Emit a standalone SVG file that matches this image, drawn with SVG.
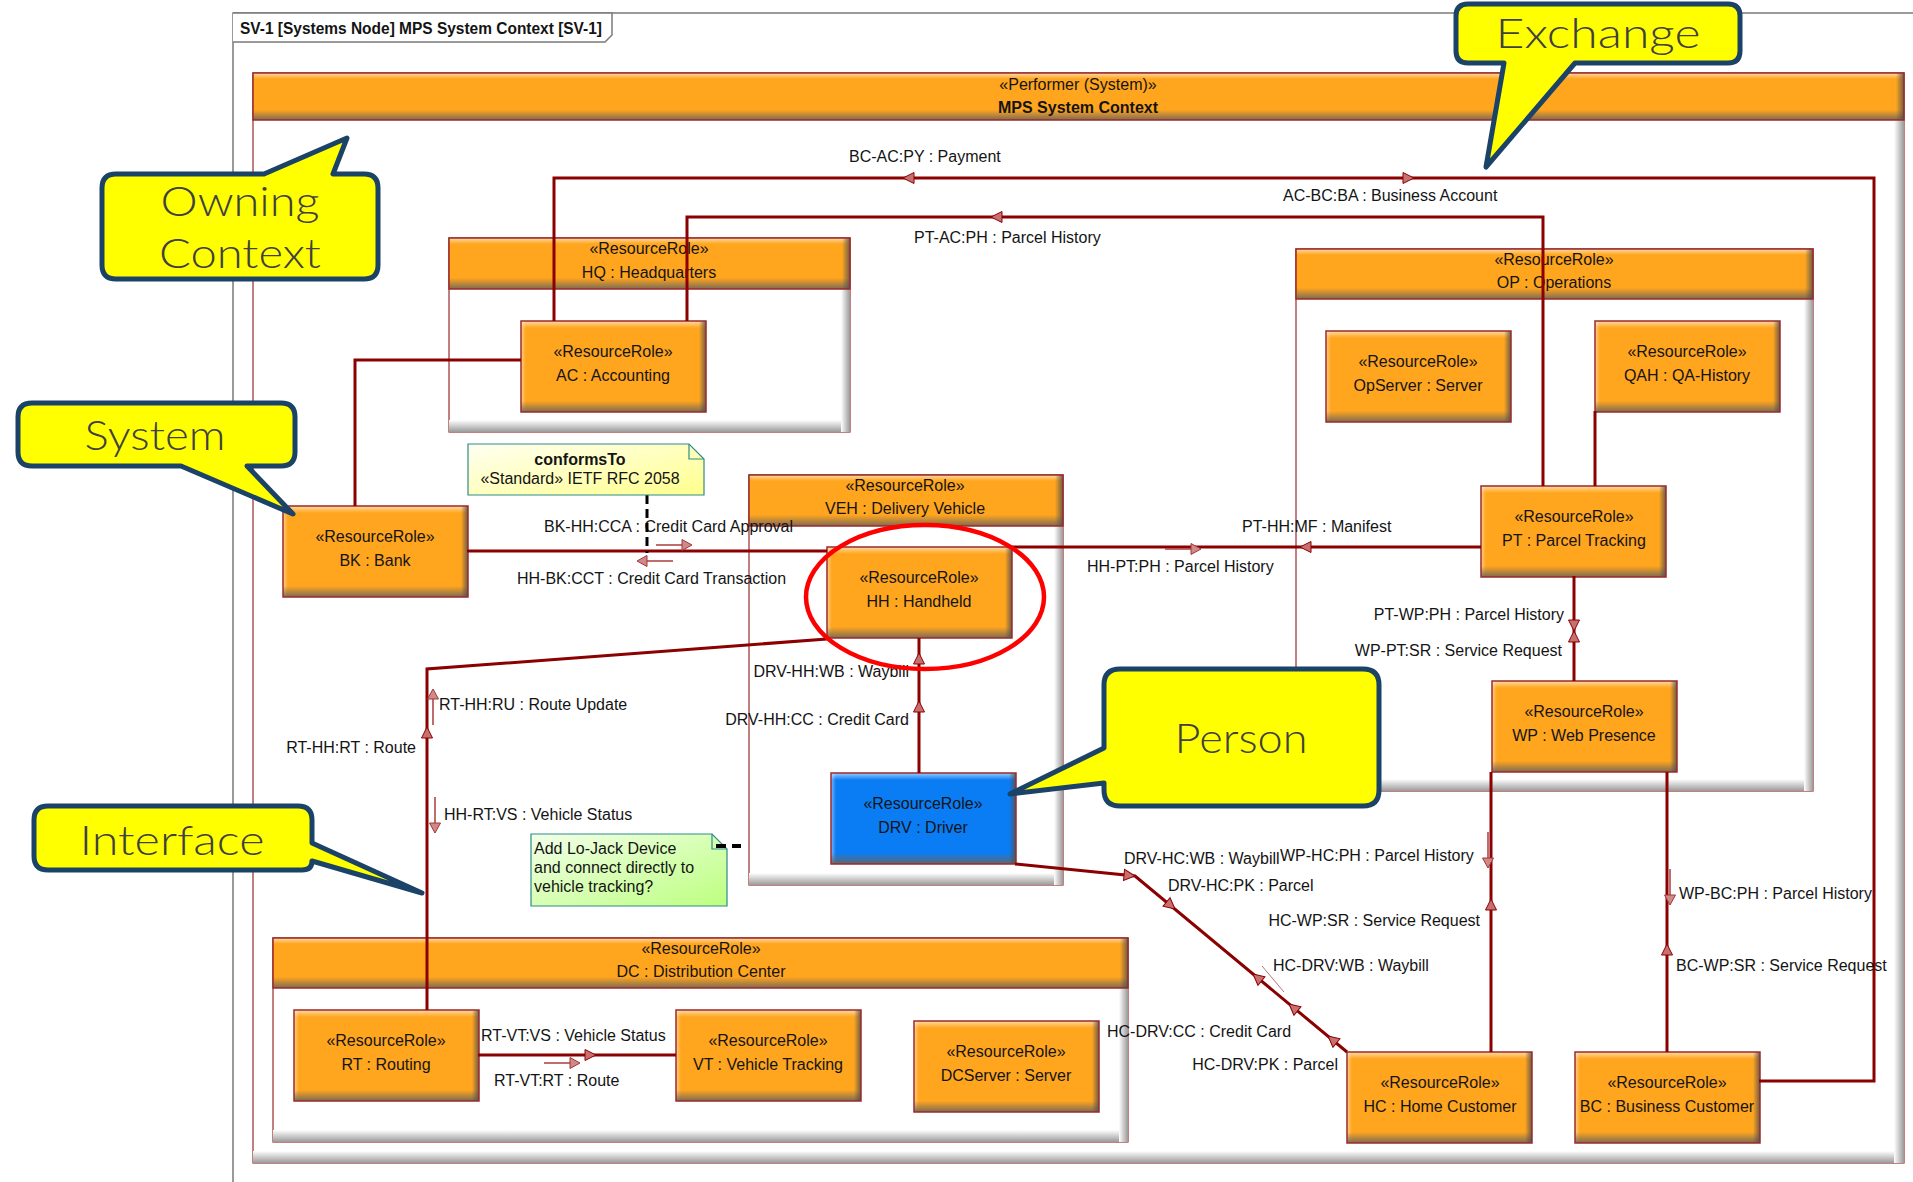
<svg xmlns="http://www.w3.org/2000/svg" xmlns:xlink="http://www.w3.org/1999/xlink" width="1913" height="1182" viewBox="0 0 1913 1182">
  <style>
    .t { font-family: "Liberation Sans", Arial, sans-serif; font-size: 16px; fill: #141414; }
    .c { text-anchor: middle; }
    .r { text-anchor: end; }
    .b { font-weight: bold; }
    .or { fill: #FFA51E; }
    .bl { fill: #0A7DF5; }
    .edge { fill: none; stroke: #9B2B2B; stroke-width: 1.5; }
    .body { fill: #FFFFFF; stroke: #9B2B2B; stroke-width: 1.2; }
    .link { fill: none; stroke: #8B0000; stroke-width: 3; }
    .ah { fill: #C87070; stroke: #8B0000; stroke-width: 1; }
    .oa line { stroke: #B04848; stroke-width: 1.6; }
    .oa path { fill: #D08888; stroke: #A03838; stroke-width: 1; }
    .call { fill: #FFFF00; stroke: #1B4368; stroke-width: 5; stroke-linejoin: round; }
    .ct { font-family: Lato, "Open Sans", sans-serif; font-weight: 300; fill: #404040; text-anchor: middle; }
    .note { stroke: #2E8B8B; stroke-width: 1.2; }
  </style>
  <defs>
    <linearGradient id="gTop" x1="0" y1="0" x2="0" y2="1">
      <stop offset="0" stop-color="#FFFFFF" stop-opacity="0.6"/>
      <stop offset="1" stop-color="#FFFFFF" stop-opacity="0"/>
    </linearGradient>
    <linearGradient id="gBot" x1="0" y1="0" x2="0" y2="1">
      <stop offset="0" stop-color="#6E645A" stop-opacity="0"/>
      <stop offset="1" stop-color="#6E645A" stop-opacity="0.9"/>
    </linearGradient>
    <linearGradient id="gRgt" x1="0" y1="0" x2="1" y2="0">
      <stop offset="0" stop-color="#505050" stop-opacity="0"/>
      <stop offset="1" stop-color="#505050" stop-opacity="0.85"/>
    </linearGradient>
    <linearGradient id="gLft" x1="0" y1="0" x2="1" y2="0">
      <stop offset="0" stop-color="#FFFFFF" stop-opacity="0.45"/>
      <stop offset="1" stop-color="#FFFFFF" stop-opacity="0"/>
    </linearGradient>
    <linearGradient id="wBot" x1="0" y1="0" x2="0" y2="1">
      <stop offset="0" stop-color="#FFFFFF"/>
      <stop offset="1" stop-color="#9A9A9A"/>
    </linearGradient>
    <linearGradient id="wRgt" x1="0" y1="0" x2="1" y2="0">
      <stop offset="0" stop-color="#FFFFFF"/>
      <stop offset="1" stop-color="#9A9A9A"/>
    </linearGradient>
    <linearGradient id="gNoteY" x1="0" y1="0" x2="1" y2="1">
      <stop offset="0" stop-color="#FFFFF2"/>
      <stop offset="1" stop-color="#FFFF8C"/>
    </linearGradient>
    <linearGradient id="gNoteG" x1="0" y1="0" x2="1" y2="1">
      <stop offset="0" stop-color="#F2FFE8"/>
      <stop offset="1" stop-color="#BDFF80"/>
    </linearGradient>

    <!-- bevelled leaf box, 185 x 91 -->
    <g id="leafO">
      <rect class="or" x="0" y="0" width="185" height="91"/>
      <rect x="0" y="0" width="185" height="7" fill="url(#gTop)"/>
      <rect x="0" y="0" width="5" height="91" fill="url(#gLft)"/>
      <rect x="0" y="80" width="185" height="11" fill="url(#gBot)"/>
      <rect x="178" y="0" width="7" height="91" fill="url(#gRgt)"/>
      <rect class="edge" x="0" y="0" width="185" height="91"/>
    </g>
    <g id="leafB">
      <rect class="bl" x="0" y="0" width="185" height="91"/>
      <rect x="0" y="0" width="185" height="7" fill="url(#gTop)"/>
      <rect x="0" y="0" width="5" height="91" fill="url(#gLft)"/>
      <rect x="0" y="80" width="185" height="11" fill="url(#gBot)"/>
      <rect x="178" y="0" width="7" height="91" fill="url(#gRgt)"/>
      <rect class="edge" x="0" y="0" width="185" height="91"/>
    </g>

    <!-- arrowheads: tip at origin, pointing along +x -->
    <path id="tri" class="ah" d="M0,0 L-11,-5.5 L-11,5.5 Z"/>
    <g id="oarr" class="oa">
      <line x1="-36" y1="0" x2="-9" y2="0"/>
      <path d="M0,0 L-10,-5.5 L-10,5.5 Z"/>
    </g>
  </defs>

  <rect x="0" y="0" width="1913" height="1182" fill="#FFFFFF"/>

  <!-- diagram frame -->
  <g id="frame">
    <path d="M233,1182 V13 H1913" fill="none" stroke="#7A7A7A" stroke-width="1.5"/>
    <path d="M233,13 H612 V35 L605,42 H233" fill="#FFFFFF" stroke="#7A7A7A" stroke-width="1.5"/>
    <text class="t b" x="240" y="34" font-size="14" textLength="362" lengthAdjust="spacingAndGlyphs">SV-1 [Systems Node] MPS System Context [SV-1]</text>
  </g>

  <!-- owning context -->
  <g id="mps-system-context">
    <rect class="body" x="253" y="73" width="1651" height="1090"/>
    <rect x="253" y="1151" width="1651" height="12" fill="url(#wBot)"/>
    <rect x="1894" y="120" width="10" height="1043" fill="url(#wRgt)"/>
    <rect class="or" x="253" y="73" width="1651" height="47"/>
    <rect x="253" y="73" width="1651" height="6" fill="url(#gTop)"/>
    <rect x="253" y="110" width="1651" height="10" fill="url(#gBot)"/>
    <rect x="1896" y="73" width="8" height="47" fill="url(#gRgt)"/>
    <rect class="edge" x="253" y="73" width="1651" height="47"/>
    <text class="t c" x="1078" y="90">«Performer (System)»</text>
    <text class="t c b" x="1078" y="113">MPS System Context</text>
  </g>

  <!-- containers -->
  <g id="hq">
    <rect class="body" x="449" y="238" width="401" height="194"/>
    <rect x="449" y="420" width="401" height="12" fill="url(#wBot)"/>
    <rect x="841" y="289" width="9" height="143" fill="url(#wRgt)"/>
    <rect class="or" x="449" y="238" width="401" height="51"/>
    <rect x="449" y="238" width="401" height="6" fill="url(#gTop)"/>
    <rect x="449" y="278" width="401" height="11" fill="url(#gBot)"/>
    <rect x="842" y="238" width="8" height="51" fill="url(#gRgt)"/>
    <rect class="edge" x="449" y="238" width="401" height="51"/>
    <text class="t c" x="649" y="254">«ResourceRole»</text>
    <text class="t c" x="649" y="278">HQ : Headquarters</text>
  </g>

  <g id="veh">
    <rect class="body" x="749" y="475" width="314" height="410"/>
    <rect x="749" y="873" width="314" height="12" fill="url(#wBot)"/>
    <rect x="1054" y="526" width="9" height="359" fill="url(#wRgt)"/>
    <rect class="or" x="749" y="475" width="314" height="51"/>
    <rect x="749" y="475" width="314" height="6" fill="url(#gTop)"/>
    <rect x="749" y="515" width="314" height="11" fill="url(#gBot)"/>
    <rect x="1055" y="475" width="8" height="51" fill="url(#gRgt)"/>
    <rect class="edge" x="749" y="475" width="314" height="51"/>
    <text class="t c" x="905" y="491">«ResourceRole»</text>
    <text class="t c" x="905" y="514">VEH : Delivery Vehicle</text>
  </g>

  <g id="op">
    <rect class="body" x="1296" y="249" width="517" height="542"/>
    <rect x="1296" y="779" width="517" height="12" fill="url(#wBot)"/>
    <rect x="1804" y="299" width="9" height="492" fill="url(#wRgt)"/>
    <rect class="or" x="1296" y="249" width="517" height="50"/>
    <rect x="1296" y="249" width="517" height="6" fill="url(#gTop)"/>
    <rect x="1296" y="288" width="517" height="11" fill="url(#gBot)"/>
    <rect x="1805" y="249" width="8" height="50" fill="url(#gRgt)"/>
    <rect class="edge" x="1296" y="249" width="517" height="50"/>
    <text class="t c" x="1554" y="265">«ResourceRole»</text>
    <text class="t c" x="1554" y="288">OP : Operations</text>
  </g>

  <g id="dc">
    <rect class="body" x="273" y="938" width="855" height="204"/>
    <rect x="273" y="1130" width="855" height="12" fill="url(#wBot)"/>
    <rect x="1119" y="988" width="9" height="154" fill="url(#wRgt)"/>
    <rect class="or" x="273" y="938" width="855" height="50"/>
    <rect x="273" y="938" width="855" height="6" fill="url(#gTop)"/>
    <rect x="273" y="977" width="855" height="11" fill="url(#gBot)"/>
    <rect x="1120" y="938" width="8" height="50" fill="url(#gRgt)"/>
    <rect class="edge" x="273" y="938" width="855" height="50"/>
    <text class="t c" x="701" y="954">«ResourceRole»</text>
    <text class="t c" x="701" y="977">DC : Distribution Center</text>
  </g>

  <!-- resource roles -->
  <g id="ac"><use href="#leafO" x="521" y="321"/>
    <text class="t c" x="613" y="357">«ResourceRole»</text><text class="t c" x="613" y="381">AC : Accounting</text></g>
  <g id="bk"><use href="#leafO" x="283" y="506"/>
    <text class="t c" x="375" y="542">«ResourceRole»</text><text class="t c" x="375" y="566">BK : Bank</text></g>
  <g id="hh"><use href="#leafO" x="827" y="547"/>
    <text class="t c" x="919" y="583">«ResourceRole»</text><text class="t c" x="919" y="607">HH : Handheld</text></g>
  <g id="drv"><use href="#leafB" x="831" y="773"/>
    <text class="t c" x="923" y="809">«ResourceRole»</text><text class="t c" x="923" y="833">DRV : Driver</text></g>
  <g id="opserver"><use href="#leafO" x="1326" y="331"/>
    <text class="t c" x="1418" y="367">«ResourceRole»</text><text class="t c" x="1418" y="391">OpServer : Server</text></g>
  <g id="qah"><use href="#leafO" x="1595" y="321"/>
    <text class="t c" x="1687" y="357">«ResourceRole»</text><text class="t c" x="1687" y="381">QAH : QA-History</text></g>
  <g id="pt"><use href="#leafO" x="1481" y="486"/>
    <text class="t c" x="1574" y="522">«ResourceRole»</text><text class="t c" x="1574" y="546">PT : Parcel Tracking</text></g>
  <g id="wp"><use href="#leafO" x="1492" y="681"/>
    <text class="t c" x="1584" y="717">«ResourceRole»</text><text class="t c" x="1584" y="741">WP : Web Presence</text></g>
  <g id="rt"><use href="#leafO" x="294" y="1010"/>
    <text class="t c" x="386" y="1046">«ResourceRole»</text><text class="t c" x="386" y="1070">RT : Routing</text></g>
  <g id="vt"><use href="#leafO" x="676" y="1010"/>
    <text class="t c" x="768" y="1046">«ResourceRole»</text><text class="t c" x="768" y="1070">VT : Vehicle Tracking</text></g>
  <g id="dcserver"><use href="#leafO" x="914" y="1021"/>
    <text class="t c" x="1006" y="1057">«ResourceRole»</text><text class="t c" x="1006" y="1081">DCServer : Server</text></g>
  <g id="hc"><use href="#leafO" x="1347" y="1052"/>
    <text class="t c" x="1440" y="1088">«ResourceRole»</text><text class="t c" x="1440" y="1112">HC : Home Customer</text></g>
  <g id="bc"><use href="#leafO" x="1575" y="1052"/>
    <text class="t c" x="1667" y="1088">«ResourceRole»</text><text class="t c" x="1667" y="1112">BC : Business Customer</text></g>

  <!-- connectors -->
  <g id="connectors">
    <path class="link" d="M554,321 V178 H1874 V1081 H1759"/>
    <path class="link" d="M687,321 V217 H1543 V486"/>
    <path class="link" d="M521,360 H355 V506"/>
    <path class="link" d="M467,551 H827"/>
    <path class="link" d="M1011,547 H1481"/>
    <path class="link" d="M1595,411 V486"/>
    <path class="link" d="M1574,576 V681"/>
    <path class="link" d="M827,639 L427,669 V1010"/>
    <path class="link" d="M919,773 V638"/>
    <path class="link" d="M478,1055 H676"/>
    <path class="link" d="M1015,864 L1135,876 L1347,1052"/>
    <path class="link" d="M1491,772 V1052"/>
    <path class="link" d="M1667,772 V1052"/>

    <!-- arrowheads on the lines -->
    <use href="#tri" transform="translate(903,178) rotate(180)"/>
    <use href="#tri" transform="translate(1414,178)"/>
    <use href="#tri" transform="translate(991,217) rotate(180)"/>
    <use href="#tri" transform="translate(1300,547) rotate(180)"/>
    <use href="#tri" transform="translate(1574,631) rotate(90)"/>
    <use href="#tri" transform="translate(1574,631) rotate(-90)"/>
    <use href="#tri" transform="translate(919,653) rotate(-90)"/>
    <use href="#tri" transform="translate(919,701) rotate(-90)"/>
    <use href="#tri" transform="translate(427,727) rotate(-90)"/>
    <use href="#tri" transform="translate(596,1055)"/>
    <use href="#tri" transform="translate(1135,876) rotate(5.7)"/>
    <use href="#tri" transform="translate(1175,909) rotate(39.7)"/>
    <use href="#tri" transform="translate(1253,974) rotate(219.7)"/>
    <use href="#tri" transform="translate(1289,1004) rotate(219.7)"/>
    <use href="#tri" transform="translate(1328,1036) rotate(219.7)"/>
    <use href="#tri" transform="translate(1491,899) rotate(-90)"/>
    <use href="#tri" transform="translate(1667,944) rotate(-90)"/>

    <!-- flow arrows beside the lines -->
    <use href="#oarr" transform="translate(692,545)"/>
    <use href="#oarr" transform="translate(637,561) rotate(180)"/>
    <use href="#oarr" transform="translate(1201,549)"/>
    <use href="#oarr" transform="translate(433,689) rotate(-90)"/>
    <use href="#oarr" transform="translate(435,833) rotate(90)"/>
    <use href="#oarr" transform="translate(580,1063)"/>
    <use href="#oarr" transform="translate(1488,868) rotate(90)"/>
    <use href="#oarr" transform="translate(1670,905) rotate(90)"/>
    <line x1="1262" y1="966" x2="1284" y2="992" stroke="#C07070" stroke-width="1"/>

    <!-- connector labels -->
    <text class="t" x="849" y="162">BC-AC:PY : Payment</text>
    <text class="t" x="1283" y="201">AC-BC:BA : Business Account</text>
    <text class="t" x="914" y="243">PT-AC:PH : Parcel History</text>
    <text class="t" x="544" y="532">BK-HH:CCA : Credit Card Approval</text>
    <text class="t" x="517" y="584">HH-BK:CCT : Credit Card Transaction</text>
    <text class="t" x="1242" y="532">PT-HH:MF : Manifest</text>
    <text class="t" x="1087" y="572">HH-PT:PH : Parcel History</text>
    <text class="t r" x="1564" y="620">PT-WP:PH : Parcel History</text>
    <text class="t r" x="1562" y="656">WP-PT:SR : Service Request</text>
    <text class="t r" x="909" y="677">DRV-HH:WB : Waybill</text>
    <text class="t r" x="909" y="725">DRV-HH:CC : Credit Card</text>
    <text class="t" x="439" y="710">RT-HH:RU : Route Update</text>
    <text class="t r" x="416" y="753">RT-HH:RT : Route</text>
    <text class="t" x="444" y="820">HH-RT:VS : Vehicle Status</text>
    <text class="t" x="481" y="1041">RT-VT:VS : Vehicle Status</text>
    <text class="t" x="494" y="1086">RT-VT:RT : Route</text>
    <text class="t" x="1124" y="864">DRV-HC:WB : Waybill</text>
    <text class="t" x="1280" y="861">WP-HC:PH : Parcel History</text>
    <text class="t" x="1168" y="891">DRV-HC:PK : Parcel</text>
    <text class="t r" x="1480" y="926">HC-WP:SR : Service Request</text>
    <text class="t" x="1273" y="971">HC-DRV:WB : Waybill</text>
    <text class="t" x="1107" y="1037">HC-DRV:CC : Credit Card</text>
    <text class="t r" x="1338" y="1070">HC-DRV:PK : Parcel</text>
    <text class="t" x="1679" y="899">WP-BC:PH : Parcel History</text>
    <text class="t" x="1676" y="971">BC-WP:SR : Service Request</text>
  </g>

  <!-- notes -->
  <g id="note-conforms">
    <line x1="647" y1="495" x2="647" y2="553" stroke="#000" stroke-width="3" stroke-dasharray="9,5"/>
    <path class="note" d="M468,444 H689 L704,459 V495 H468 Z" fill="url(#gNoteY)"/>
    <path class="note" d="M689,444 V459 H704" fill="none"/>
    <text class="t c b" x="580" y="465">conformsTo</text>
    <text class="t c" x="580" y="484">«Standard» IETF RFC 2058</text>
  </g>
  <g id="note-lojack">
    <path class="note" d="M531,834 H712 L727,849 V906 H531 Z" fill="url(#gNoteG)"/>
    <path class="note" d="M712,834 V849 H727" fill="none"/>
    <line x1="716" y1="846" x2="741" y2="846" stroke="#000" stroke-width="4" stroke-dasharray="10,6"/>
    <text class="t" x="534" y="854">Add Lo-Jack Device</text>
    <text class="t" x="534" y="873">and connect directly to</text>
    <text class="t" x="534" y="892">vehicle tracking?</text>
  </g>

  <!-- highlight ring round the handheld -->
  <ellipse cx="925" cy="597" rx="119" ry="72" fill="none" stroke="#FF0000" stroke-width="4.5"/>

  <!-- callouts -->
  <g id="callout-exchange">
    <path class="call" d="M1468,4 H1728 Q1740,4 1740,16 V51 Q1740,63 1728,63 H1575 L1486,167 L1504,63 H1468 Q1456,63 1456,51 V16 Q1456,4 1468,4 Z"/>
    <text class="ct" x="1598" y="48" font-size="42" textLength="205" lengthAdjust="spacingAndGlyphs">Exchange</text>
  </g>
  <g id="callout-owning">
    <path class="call" d="M116,174 H264 L347,138 L333,174 H364 Q378,174 378,188 V265 Q378,279 364,279 H116 Q102,279 102,265 V188 Q102,174 116,174 Z"/>
    <text class="ct" x="240" y="216" font-size="42" textLength="159" lengthAdjust="spacingAndGlyphs">Owning</text>
    <text class="ct" x="240" y="268" font-size="42" textLength="162" lengthAdjust="spacingAndGlyphs">Context</text>
  </g>
  <g id="callout-system">
    <path class="call" d="M32,403 H281 Q295,403 295,417 V452 Q295,466 281,466 H247 L293,514 L181,466 H32 Q18,466 18,452 V417 Q18,403 32,403 Z"/>
    <text class="ct" x="155" y="450" font-size="42" textLength="141" lengthAdjust="spacingAndGlyphs">System</text>
  </g>
  <g id="callout-interface">
    <path class="call" d="M48,806 H298 Q312,806 312,820 V843 L422,893 L312,861 Q312,870 302,870 H48 Q34,870 34,856 V820 Q34,806 48,806 Z"/>
    <text class="ct" x="172" y="855" font-size="42" textLength="185" lengthAdjust="spacingAndGlyphs">Interface</text>
  </g>
  <g id="callout-person">
    <path class="call" d="M1120,669 H1363 Q1379,669 1379,685 V790 Q1379,806 1363,806 H1120 Q1104,806 1104,790 V783 L1010,794 L1104,748 V685 Q1104,669 1120,669 Z"/>
    <text class="ct" x="1241" y="753" font-size="42" textLength="133" lengthAdjust="spacingAndGlyphs">Person</text>
  </g>
</svg>
